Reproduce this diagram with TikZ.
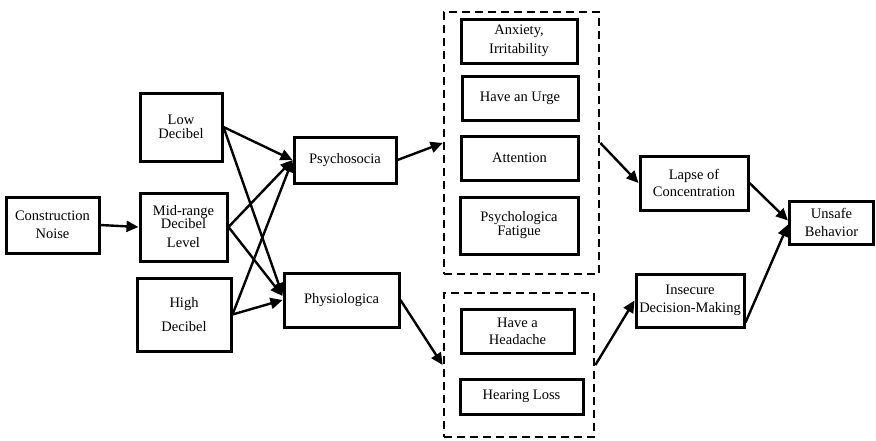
\documentclass[tikz,border=0pt]{standalone}
\usepackage{fontspec}
\setmainfont{Liberation Serif}
\usetikzlibrary{arrows.meta}
\begin{document}
\begin{tikzpicture}[x=1pt,y=-1pt,
  box/.style={draw,line width=3pt,inner sep=0pt,align=center,font=\fontsize{14.5}{18}\selectfont},
  grp/.style={draw,line width=2.8pt,dash pattern=on 8pt off 5pt,inner sep=0pt},
  conn/.style={line width=2.4pt,-{Triangle[length=12pt,width=11pt]}}]
\useasboundingbox (0,0) rectangle (876,440);
\node[box,minimum width=93,minimum height=56] (cn) at (52.5,225) {Construction\\Noise};
\node[box,minimum width=82,minimum height=68] (low) at (181,127) {Low\\[-4pt]Decibel};
\node[box,minimum width=87,minimum height=68] (mid) at (183.5,227) {Mid-range\\[-5pt]Decibel\\[1pt]Level};
\node[box,minimum width=94,minimum height=73] (high) at (184,314.5) {High\\[6pt]Decibel};
\node[box,minimum width=102,minimum height=46] (psy) at (345,160) {Psychosocia};
\node[box,minimum width=115,minimum height=54] (phy) at (341.5,300) {Physiologica};
\node[grp,minimum width=155,minimum height=262] (g1) at (521.5,143) {};
\node[box,minimum width=116,minimum height=44] (anx) at (519,41) {Anxiety,\\[1pt]Irritability};
\node[box,minimum width=116,minimum height=44] (urge) at (520,98) {Have an Urge};
\node[box,minimum width=117,minimum height=44] (att) at (519.5,158) {Attention};
\node[box,minimum width=118,minimum height=57] (pf) at (519,225.5) {Psychologica\\[-4pt]Fatigue};
\node[grp,minimum width=150,minimum height=144] (g2) at (519,365) {};
\node[box,minimum width=113,minimum height=44] (head) at (517.5,331) {Have a\\[-1pt]Headache};
\node[box,minimum width=123,minimum height=35] (hear) at (521.5,396.5) {Hearing Loss};
\node[box,minimum width=108,minimum height=54] (lapse) at (694,183) {Lapse of\\[-1pt]Concentration};
\node[box,minimum width=84,minimum height=43] (unsafe) at (831.5,222.5) {Unsafe\\Behavior};
\node[box,minimum width=108,minimum height=53] (ins) at (690,300.5) {Insecure\\Decision-Making};
\draw[conn] (cn.east) -- (mid.west);
\draw[conn] (low.east) -- (psy.west);
\draw[conn] (low.east) -- ([yshift=5pt]phy.west);
\draw[conn] (mid.east) -- (psy.west);
\draw[conn] (mid.east) -- ([yshift=4pt]phy.west);
\draw[conn] (high.east) -- (psy.west);
\draw[conn] (high.east) -- (phy.west);
\draw[conn] (psy.east) -- (g1.west);
\draw[conn] (phy.east) -- (g2.west);
\draw[conn] (g1.east) -- (lapse.west);
\draw[conn] (g2.east) -- (ins.west);
\draw[conn] (lapse.east) -- ([yshift=2pt]unsafe.west);
\draw[conn] ([yshift=6pt]ins.south east) -- ([yshift=-2pt]unsafe.west);
\end{tikzpicture}
\end{document}
